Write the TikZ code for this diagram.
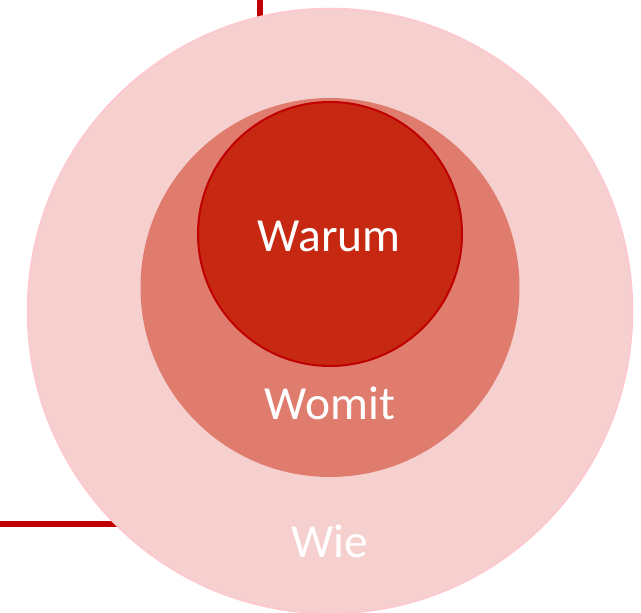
\documentclass[tikz,border=0pt]{standalone}
\usepackage{fontspec}
\setmainfont{Carlito}
\usepackage{tikz}
\usetikzlibrary{positioning}
\definecolor{myred}{HTML}{C00000}
\definecolor{mydark}{HTML}{C62812}
\definecolor{mymid}{HTML}{DF7C6E}
\definecolor{mylight}{HTML}{F5D0CE}
\definecolor{myrim}{HTML}{FFC7CE}
\tikzset{
	ringnode/.style={
			circle,
			inner sep=0pt,
			draw=none
		},
	wienode/.style={
			ringnode,
			fill=mylight,
			draw=myrim,
			line width=1.5pt,
			minimum size=605pt
		},
	womitnode/.style={
			ringnode,
			fill=mymid,
			minimum size=379pt
		},
	warumnode/.style={
			ringnode,
			fill=mydark,
			draw=myred,
			line width=2pt,
			minimum size=264pt
		},
	labelnode/.style={
			anchor=base,
			text=white,
			inner sep=0pt,
			font=\fontsize{47.5}{54}\selectfont
		},
	framenode/.style={
			draw=myred,
			line width=5.5pt
		}
}

\begin{document}
\begin{tikzpicture}[x=1pt, y=1pt]
	\useasboundingbox (0, 0) rectangle (641, 613);
	% frame lines behind the rings
	\coordinate (ftop) at (260, 613);
	\coordinate (fcorner) at (260, 89);
	\coordinate (fleft) at (0, 89);
	\draw[framenode] (ftop) -- (fcorner) -- (fleft);

	\node[wienode] (wie) at (330, 302) {};
	\node[womitnode] (womit) at (330, 325.5) {};
	\node[warumnode] (warum) at (330, 379) {};

	\node[labelnode] (twarum) at (329, 361) {Warum};
	\node[labelnode] (twomit) at (330, 193) {Womit};
	\node[labelnode] (twie) at (330, 55) {Wie};
\end{tikzpicture}
\end{document}
